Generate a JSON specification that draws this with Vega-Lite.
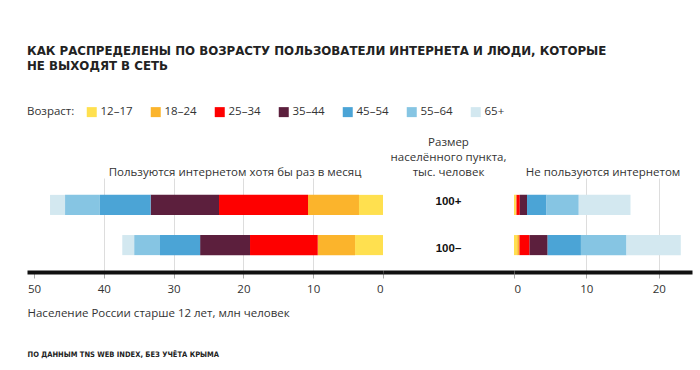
{
  "$schema": "https://vega.github.io/schema/vega-lite/v6.json",
  "background": "white",
  "padding": {"left": 27, "top": 46, "right": 8, "bottom": 4},
  "autosize": {"type": "pad"},
  "title": {
    "text": ["КАК РАСПРЕДЕЛЕНЫ ПО ВОЗРАСТУ ПОЛЬЗОВАТЕЛИ ИНТЕРНЕТА И ЛЮДИ, КОТОРЫЕ", "НЕ ВЫХОДЯТ В СЕТЬ"],
    "anchor": "start",
    "font": "DejaVu Sans",
    "fontSize": 11.8,
    "fontWeight": "bold",
    "color": "#222222",
    "lineHeight": 15,
    "offset": 33,
    "frame": "group"
  },
  "config": {
    "view": {"stroke": null},
    "font": "Open Sans",
    "axis": {
      "domainColor": "#111111",
      "domainWidth": 4,
      "tickColor": "#aaaaaa",
      "tickSize": 6,
      "tickWidth": 1,
      "labelFontSize": 11.5,
      "labelColor": "#333333",
      "labelPadding": 5,
      "labelFont": "Open Sans",
      "titleFont": "Open Sans",
      "titleFontWeight": "normal",
      "titleFontSize": 11.5,
      "titleColor": "#333333",
      "gridColor": "#dddddd"
    },
    "title": {"font": "Open Sans", "fontSize": 11.5, "fontWeight": "normal", "color": "#333333"}
  },
  "datasets": {
    "users": [
      {"size": "100+", "age": "12–17", "value": 3.44},
      {"size": "100+", "age": "18–24", "value": 7.3},
      {"size": "100+", "age": "25–34", "value": 12.75},
      {"size": "100+", "age": "35–44", "value": 9.8},
      {"size": "100+", "age": "45–54", "value": 7.26},
      {"size": "100+", "age": "55–64", "value": 5.0},
      {"size": "100+", "age": "65+", "value": 2.15},
      {"size": "100–", "age": "12–17", "value": 4.0},
      {"size": "100–", "age": "18–24", "value": 5.35},
      {"size": "100–", "age": "25–34", "value": 9.7},
      {"size": "100–", "age": "35–44", "value": 7.15},
      {"size": "100–", "age": "45–54", "value": 5.75},
      {"size": "100–", "age": "55–64", "value": 3.7},
      {"size": "100–", "age": "65+", "value": 1.7}
    ],
    "nonusers": [
      {"size": "100+", "age": "12–17", "value": 0.25},
      {"size": "100+", "age": "18–24", "value": 0.1},
      {"size": "100+", "age": "25–34", "value": 0.45},
      {"size": "100+", "age": "35–44", "value": 1.0},
      {"size": "100+", "age": "45–54", "value": 2.7},
      {"size": "100+", "age": "55–64", "value": 4.45},
      {"size": "100+", "age": "65+", "value": 7.15},
      {"size": "100–", "age": "12–17", "value": 0.45},
      {"size": "100–", "age": "18–24", "value": 0.3},
      {"size": "100–", "age": "25–34", "value": 1.4},
      {"size": "100–", "age": "35–44", "value": 2.5},
      {"size": "100–", "age": "45–54", "value": 4.6},
      {"size": "100–", "age": "55–64", "value": 6.3},
      {"size": "100–", "age": "65+", "value": 7.5}
    ],
    "sizes": [
      {"size": "100+"},
      {"size": "100–"}
    ]
  },
  "vconcat": [
    {
      "hconcat": [
        {
          "width": 356,
          "height": 94,
          "data": {"name": "users"},
          "title": {"text": "Пользуются интернетом хотя бы раз в месяц", "anchor": "middle", "dx": 30, "offset": 0},
          "mark": {"type": "bar"},
          "encoding": {
            "y": {"field": "size", "type": "nominal", "sort": ["100+", "100–"], "axis": null, "scale": {"paddingInner": 0.5, "paddingOuter": 0.42}},
            "x": {
              "field": "value", "type": "quantitative", "stack": "zero",
              "scale": {"domain": [0, 51], "reverse": true, "nice": false, "zero": true},
              "axis": {
                "values": [0, 10, 20, 30, 40, 50],
                "grid": true,
                "gridOpacity": {"condition": {"test": "datum.value == 0 || datum.value == 50", "value": 0}, "value": 1},
                "title": "Население России старше 12 лет, млн человек",
                "titleX": 0,
                "titleAlign": "left",
                "titlePadding": 13
              }
            },
            "color": {
              "field": "age", "type": "nominal",
              "scale": {
                "domain": ["12–17", "18–24", "25–34", "35–44", "45–54", "55–64", "65+"],
                "range": ["#ffe04f", "#fbb42c", "#fe0000", "#5c1f3d", "#4ba4d6", "#86c5e3", "#d3e8f0"]
              },
              "legend": {
                "orient": "none", "legendX": 0, "legendY": -72,
                "direction": "horizontal", "title": "Возраст:", "titleOrient": "left",
                "symbolType": "square", "symbolSize": 100, "symbolStrokeWidth": 0,
                "labelFontSize": 11.5, "labelColor": "#333333", "labelFont": "Open Sans",
                "columnPadding": 17, "labelOffset": 3, "titlePadding": 11,
                "titleFontWeight": "normal", "titleFontSize": 11.5, "titleColor": "#333333", "titleFont": "Open Sans"
              }
            }
          }
        },
        {
          "width": 131,
          "height": 94,
          "data": {"name": "sizes"},
          "title": {"text": ["Размер", "населённого пункта,", "тыс. человек"], "anchor": "middle", "offset": 0, "lineHeight": 15},
          "mark": {"type": "text", "fontWeight": "bold", "fontSize": 11.5, "font": "'Liberation Sans', Arial, 'DejaVu Sans', sans-serif", "color": "#111111"},
          "encoding": {
            "y": {"field": "size", "type": "nominal", "sort": ["100+", "100–"], "axis": null, "scale": {"paddingInner": 0.5, "paddingOuter": 0.42}},
            "x": {"datum": 0, "type": "quantitative", "scale": {"domain": [-1, 1]}, "axis": {"labels": false, "ticks": false, "grid": false, "title": null}},
            "text": {"field": "size"}
          }
        },
        {
          "width": 178,
          "height": 94,
          "data": {"name": "nonusers"},
          "title": {"text": "Не пользуются интернетом", "anchor": "middle", "offset": 0},
          "mark": {"type": "bar"},
          "encoding": {
            "y": {"field": "size", "type": "nominal", "sort": ["100+", "100–"], "axis": null, "scale": {"paddingInner": 0.5, "paddingOuter": 0.42}},
            "x": {
              "field": "value", "type": "quantitative", "stack": "zero",
              "scale": {"domain": [0, 24.6], "nice": false},
              "axis": {
                "values": [0, 10, 20],
                "grid": true,
                "gridOpacity": {"condition": {"test": "datum.value == 0", "value": 0}, "value": 1},
                "title": null
              }
            },
            "color": {
              "field": "age", "type": "nominal",
              "legend": {
                "orient": "none", "legendX": 0, "legendY": -72,
                "direction": "horizontal", "title": "Возраст:", "titleOrient": "left",
                "symbolType": "square", "symbolSize": 100, "symbolStrokeWidth": 0,
                "labelFontSize": 11.5, "labelColor": "#333333", "labelFont": "Open Sans",
                "columnPadding": 17, "labelOffset": 3, "titlePadding": 11,
                "titleFontWeight": "normal", "titleFontSize": 11.5, "titleColor": "#333333", "titleFont": "Open Sans"
              }
            }
          }
        }
      ],
      "spacing": 0,
      "bounds": "flush"
    },
    {
      "width": 1,
      "height": 1,
      "data": {"values": [{"note": "ПО ДАННЫМ TNS WEB INDEX, БЕЗ УЧЁТА КРЫМА"}]},
      "mark": {"type": "text", "align": "left", "baseline": "middle", "font": "'DejaVu Sans Condensed', 'Liberation Sans Narrow', Roboto, sans-serif", "fontWeight": "bold", "fontSize": 7.5, "color": "#222222"},
      "encoding": {"text": {"field": "note"}}
    }
  ],
  "spacing": 31
}
